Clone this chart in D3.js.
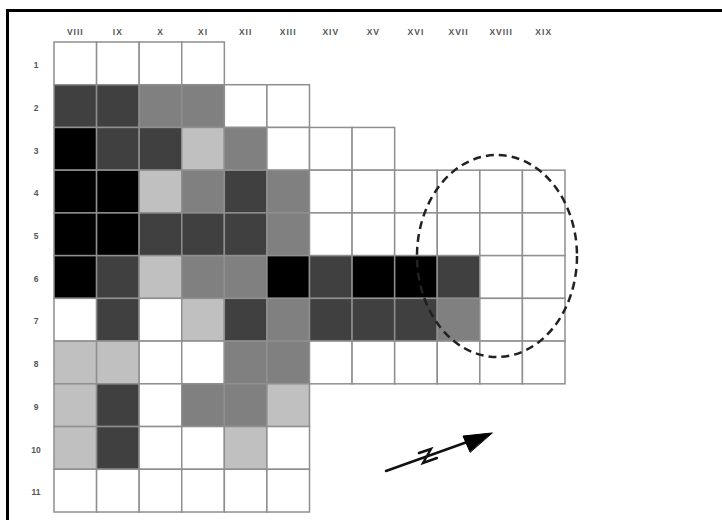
<!DOCTYPE html>
<html><head><meta charset="utf-8">
<script src="https://cdn.jsdelivr.net/npm/d3@7"></script>
<style>html,body{margin:0;padding:0;background:#fff;}svg{display:block;}</style>
</head><body>
<script>
// Column (century) labels and row labels
const columns = ["VIII","IX","X","XI","XII","XIII","XIV","XV","XVI","XVII","XVIII","XIX"];
const rows = ["1","2","3","4","5","6","7","8","9","10","11"];
// Shade level per cell: 0 white, 1 light grey, 2 mid grey, 3 dark grey, 4 black
const row1  = [0,0,0,0];
const row2  = [3,3,2,2,0,0];
const row3  = [4,3,3,1,2,0,0,0];
const row4  = [4,4,1,2,3,2,0,0,0,0,0,0];
const row5  = [4,4,3,3,3,2,0,0,0,0,0,0];
const row6  = [4,3,1,2,2,4,3,4,4,3,0,0];
const row7  = [0,3,0,1,3,2,3,3,3,2,0,0];
const row8  = [1,1,0,0,2,2,0,0,0,0,0,0];
const row9  = [1,3,0,2,2,1];
const row10 = [1,3,0,0,1,0];
const row11 = [0,0,0,0,0,0];
const levels = [0,1,2,3,4];
const shades = ["#ffffff","#c0c0c0","#808080","#404040","#000000"];

const grid = [row1,row2,row3,row4,row5,row6,row7,row8,row9,row10,row11];
const cells = [];
grid.forEach((r,i)=>r.forEach((v,j)=>{ if(v!==null) cells.push({row:rows[i], col:columns[j], v}); }));

const W=722,H=520;
const svg = d3.select("body").append("svg").attr("width",W).attr("height",H);
svg.append("rect").attr("width",W).attr("height",H).attr("fill","#fff");

const x = d3.scaleBand().domain(columns).range([54,565]);
const y = d3.scaleBand().domain(rows).range([42,512]);
const color = d3.scaleOrdinal().domain(levels).range(shades);

// frame (top and left)
svg.append("line").attr("x1",6).attr("x2",W).attr("y1",10.5).attr("y2",10.5).attr("stroke","#000").attr("stroke-width",3);
svg.append("line").attr("x1",7.5).attr("x2",7.5).attr("y1",9).attr("y2",H).attr("stroke","#000").attr("stroke-width",3);

svg.append("g").selectAll("rect").data(cells).join("rect")
  .attr("x",d=>x(d.col)).attr("y",d=>y(d.row))
  .attr("width",x.bandwidth()).attr("height",y.bandwidth())
  .attr("fill",d=>color(d.v))
  .attr("stroke","#8f8f8f").attr("stroke-width",1.5);

// axes
const ax = svg.append("g").attr("transform","translate(0,42)")
  .call(d3.axisTop(x).tickSize(0).tickPadding(12));
ax.select(".domain").remove();
ax.selectAll("text").attr("font-family","Liberation Sans, Arial, sans-serif")
  .attr("font-size",8.5).attr("font-weight","bold").attr("fill","#555").attr("letter-spacing","1px").attr("dy","0.6em");

const ay = svg.append("g").attr("transform","translate(54,0)")
  .call(d3.axisLeft(y).tickSize(0).tickPadding(18));
ay.select(".domain").remove();
ay.selectAll("text").attr("font-family","Liberation Sans, Arial, sans-serif")
  .attr("font-size",8.5).attr("font-weight","bold").attr("fill","#555").attr("text-anchor","middle").attr("dy","0.55em");

// dashed ellipse
svg.append("ellipse").attr("cx",497).attr("cy",256).attr("rx",80).attr("ry",101)
  .attr("fill","none").attr("stroke","#222").attr("stroke-width",2.5).attr("stroke-dasharray","8,5");

// north arrow
const na = svg.append("g").attr("fill","none").attr("stroke","#111").attr("stroke-width",2.4).attr("stroke-linecap","round");
na.append("line").attr("x1",386).attr("y1",471).attr("x2",470).attr("y2",441);
na.append("path").attr("d","M492,433 L463,436 L470,452 Z").attr("fill","#000").attr("stroke","#000").attr("stroke-width",1);
na.append("path").attr("d","M419,453 L431,449 L423,463 L437,458");
</script>
</body></html>
